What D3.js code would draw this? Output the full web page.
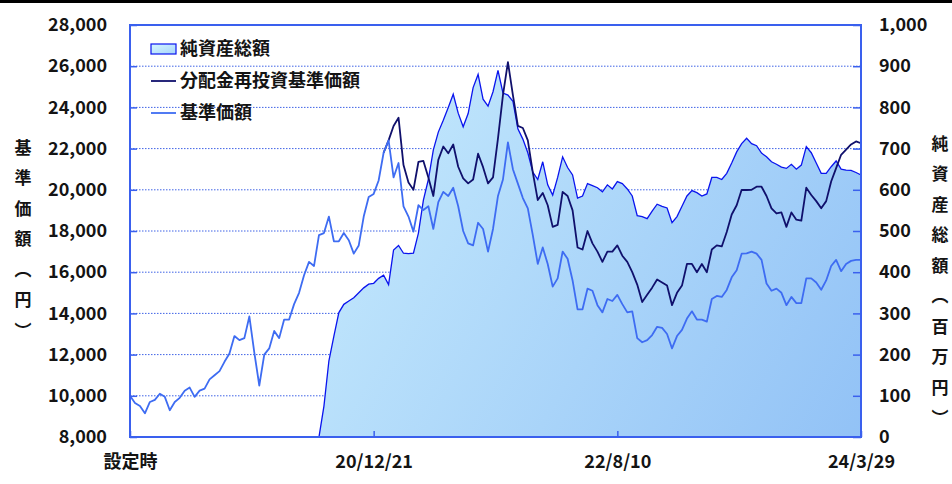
<!DOCTYPE html>
<html><head><meta charset="utf-8">
<script src="https://cdn.jsdelivr.net/npm/d3@7"></script>
<style>
html,body{margin:0;padding:0;background:#fff;}
svg{display:block;}
text{font-family:"Noto Sans CJK JP","Noto Sans",sans-serif;}
</style></head><body>
<svg id="chart" width="952" height="484"></svg>
<script>
// ---- data ----
const navValues = [10000,9650,9500,9150,9700,9800,10100,9950,9300,9700,
  9900,10250,10400,9950,10250,10350,10800,11000,11200,11650,
  12050,12900,12700,12800,13850,12100,10500,12000,12300,13150,
  12800,13700,13700,14450,15000,15850,16500,16300,17800,17900,
  18700,17500,17500,17900,17550,16900,17300,18700,19650,19800,
  20450,21800,22400,20600,21300,19200,18700,17970,19250,19020,
  19200,18100,19400,19900,19700,20100,19200,18000,17400,17300,
  18400,18100,17000,18100,19700,20500,22300,21000,20300,19600,
  19100,17800,16400,17200,16400,15300,15700,17000,16650,15600,
  14200,14200,15200,15100,14400,14050,14700,14600,14900,14450,
  14050,14100,12800,12600,12700,12950,13350,13300,13000,12300,
  12900,13200,13750,14100,13700,13700,13600,14700,14850,14800,
  15140,15750,16100,16900,16910,17000,16900,16600,15450,15100,
  15200,15000,14400,14800,14500,14500,15700,15700,15500,15150,
  15600,16300,16600,16050,16400,16550,16600,16600];
const reinvestStartIndex = 51;
const reinvestValues = [21800,22400,23100,23500,21200,20350,20000,21350,21400,20600,
  19700,21450,22100,21770,22200,21120,20550,20310,20500,21750,
  21100,20310,20600,22500,24600,26200,24600,23100,23000,22400,
  20850,19500,19850,19250,18200,18300,19900,19700,19000,17200,
  17100,18000,17400,17000,16500,17000,17000,17300,16800,16500,
  16000,15400,14550,14900,15250,15650,15500,15350,14400,15000,
  15350,16400,16400,16000,16400,16000,17100,17300,17250,17950,
  18800,19250,20000,19990,20000,20150,20150,19700,19100,18850,
  18900,18200,18900,18550,18500,20100,19750,19450,19100,19450,
  20400,21050,21700,21950,22200,22350,22260];
const assetValues = [0,0,0,0,0,0,0,0,0,0,
  0,0,0,0,0,0,0,0,0,0,
  0,0,0,0,0,0,0,0,0,0,
  0,0,0,0,0,0,0,0,0,
  75,185,245,302,322,330,338,350,362,371,
  373,385,393,370,454,465,446,445,446,495,
  575,625,697,740,769,800,832,786,753,785,
  848,880,820,803,838,890,835,830,815,748,
  723,690,643,625,668,612,587,630,680,654,
  636,580,585,615,610,605,595,612,602,620,
  615,602,585,537,535,530,548,565,560,556,
  520,535,560,585,598,593,585,590,630,630,
  625,640,665,692,712,725,712,707,689,680,
  668,662,655,652,662,650,660,705,690,665,
  640,640,656,670,650,648,647,642,636];
const xTickIndex = [0, 49, 98, 147];
const xTickLabels = ["設定時", "20/12/21", "22/8/10", "24/3/29"];
const leftTicks = d3.range(8000, 28001, 2000);
const rightTicks = d3.range(0, 1001, 100);
const legendLabels = ["純資産総額", "分配金再投資基準価額", "基準価額"];
const leftTitle = "基準価額（円）";
const rightTitle = "純資産総額（百万円）";

// ---- layout ----
const L = 130, R = 861, T = 25, B = 437;
const svg = d3.select("#chart");
const C = {frame:"#3a60ee", grid:"#3f63e6", nav:"#3e6cf2", reinv:"#10106c", asset:"#0a14ee", text:"#141414"};

svg.append("rect").attr("x",0).attr("y",0).attr("width",952).attr("height",3).attr("fill","#000");

const defs = svg.append("defs");
const g1 = defs.append("linearGradient").attr("id","areaGrad")
  .attr("gradientUnits","userSpaceOnUse").attr("x1",L).attr("y1",T).attr("x2",R).attr("y2",B);
g1.append("stop").attr("offset","0%").attr("stop-color","#d6f7ff");
g1.append("stop").attr("offset","100%").attr("stop-color","#92c2f6");
const g2 = defs.append("linearGradient").attr("id","legGrad").attr("x1",0).attr("y1",0).attr("x2",1).attr("y2",1);
g2.append("stop").attr("offset","0%").attr("stop-color","#d6f7ff");
g2.append("stop").attr("offset","100%").attr("stop-color","#a6d4fa");

const x = d3.scaleLinear().domain([0, navValues.length - 1]).range([L, R]);
const yL = d3.scaleLinear().domain([8000, 28000]).range([B, T]);
const yR = d3.scaleLinear().domain([0, 1000]).range([B, T]);

// grid
svg.append("g").selectAll("line").data(leftTicks.slice(1, -1)).join("line")
  .attr("x1", L).attr("x2", R).attr("y1", d => yL(d)).attr("y2", d => yL(d))
  .attr("stroke", C.grid).attr("stroke-width", 1).attr("stroke-dasharray", "1.5,1.5");

// area
const area = d3.area().x((d,i)=>x(i)).y0(yR(0)).y1(d=>yR(d));
svg.append("path").datum(assetValues).attr("d", area).attr("fill","url(#areaGrad)");
svg.append("path").datum(assetValues).attr("d", d3.line().x((d,i)=>x(i)).y(d=>yR(d)))
  .attr("fill","none").attr("stroke",C.asset).attr("stroke-width",1.3);

// reinvested line
svg.append("path").datum(reinvestValues)
  .attr("d", d3.line().x((d,i)=>x(i + reinvestStartIndex)).y(d=>yL(d)))
  .attr("fill","none").attr("stroke",C.reinv).attr("stroke-width",1.8).attr("stroke-linejoin","round");
// nav line
svg.append("path").datum(navValues)
  .attr("d", d3.line().x((d,i)=>x(i)).y(d=>yL(d)))
  .attr("fill","none").attr("stroke",C.nav).attr("stroke-width",1.8).attr("stroke-linejoin","round");

// frame
svg.append("rect").attr("x",L).attr("y",T).attr("width",R-L).attr("height",B-T)
  .attr("fill","none").attr("stroke",C.frame).attr("stroke-width",2);

// axes
function styleAxis(g){
  g.select(".domain").remove();
  g.selectAll(".tick line").attr("stroke",C.frame).attr("stroke-width",1.5);
  g.selectAll(".tick text").attr("fill",C.text).attr("font-size",18).attr("font-weight","bold")
   .attr("font-family",'"Noto Sans CJK JP","Noto Sans",sans-serif');
}
svg.append("g").attr("transform",`translate(${L},0)`)
  .call(d3.axisLeft(yL).tickValues(leftTicks).tickFormat(d3.format(",")).tickSize(-7).tickPadding(23))
  .call(styleAxis);
svg.append("g").attr("transform",`translate(${R},0)`)
  .call(d3.axisRight(yR).tickValues(rightTicks).tickFormat(d3.format(",")).tickSize(-8).tickPadding(18))
  .call(styleAxis);
svg.append("g").attr("transform",`translate(0,${B})`)
  .call(d3.axisBottom(x).tickValues(xTickIndex).tickFormat((d,i)=>xTickLabels[i]).tickSize(-6).tickPadding(18))
  .call(styleAxis);

// axis titles
svg.append("text").attr("x",23).attr("y",139).attr("writing-mode","vertical-rl")
  .attr("font-size",17).attr("font-weight","bold").attr("fill",C.text)
  .attr("letter-spacing",13.5).text(leftTitle);
svg.append("text").attr("x",940).attr("y",135).attr("writing-mode","vertical-rl")
  .attr("font-size",17).attr("font-weight","bold").attr("fill",C.text)
  .attr("letter-spacing",13.5).text(rightTitle);

// legend
const leg = svg.append("g");
const rows = [49, 81, 113];
leg.append("rect").attr("x",151).attr("y",rows[0]-5).attr("width",25).attr("height",10)
  .attr("fill","url(#legGrad)").attr("stroke",C.asset).attr("stroke-width",1.2);
leg.append("line").attr("x1",151).attr("x2",176).attr("y1",rows[1]).attr("y2",rows[1])
  .attr("stroke",C.reinv).attr("stroke-width",1.8);
leg.append("line").attr("x1",151).attr("x2",176).attr("y1",rows[2]).attr("y2",rows[2])
  .attr("stroke",C.nav).attr("stroke-width",1.8);
leg.selectAll("text.lg").data(legendLabels).join("text").attr("class","lg")
  .attr("x",180).attr("y",(d,i)=>rows[i]).attr("dy","0.36em")
  .attr("font-size",18).attr("font-weight","bold").attr("fill",C.text).text(d=>d);
</script>
</body></html>
